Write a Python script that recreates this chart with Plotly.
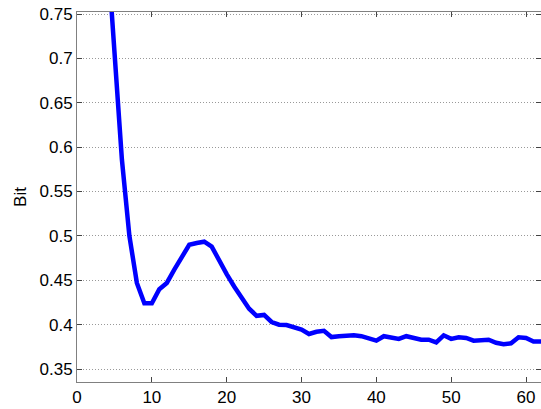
import plotly.graph_objects as go

x_vals = list(range(4, 63))
bit_vals = [0.83, 0.70, 0.586, 0.50, 0.447, 0.424, 0.424, 0.44, 0.447, 0.462,
            0.476, 0.490, 0.492, 0.4935, 0.488, 0.472, 0.457, 0.443, 0.43, 0.418,
            0.41, 0.411, 0.403, 0.400, 0.3996, 0.397, 0.3945, 0.3895, 0.392, 0.393,
            0.386, 0.387, 0.388, 0.388, 0.387, 0.384, 0.382, 0.387, 0.386, 0.384,
            0.387, 0.385, 0.383, 0.383, 0.380, 0.388, 0.384, 0.3857, 0.385, 0.382,
            0.382, 0.383, 0.3796, 0.378, 0.379, 0.3857, 0.385, 0.381, 0.381]

y_ticks = [0.35, 0.4, 0.45, 0.5, 0.55, 0.6, 0.65, 0.7, 0.75]
y_tick_text = ["0.35", "0.4", "0.45", "0.5", "0.55", "0.6", "0.65", "0.7", "0.75"]
x_ticks = [0, 10, 20, 30, 40, 50, 60]

fig = go.Figure()
fig.add_trace(go.Scatter(x=x_vals, y=bit_vals, mode="lines",
                         line=dict(color="#0000ff", width=4.5), showlegend=False))

font = dict(family="Liberation Sans, Arial, sans-serif", size=17, color="#000000")
fig.update_layout(
    width=541, height=409,
    margin=dict(l=77, r=0, t=12, b=27),
    paper_bgcolor="white", plot_bgcolor="white",
    font=font,
    xaxis=dict(range=[0, 62], tickvals=x_ticks, showgrid=False, zeroline=False,
               showline=True, linecolor="#808080", linewidth=1, mirror="ticks",
               ticks="inside", ticklen=5, tickcolor="#444444", tickfont=font),
    yaxis=dict(range=[0.3354, 0.7523], tickvals=y_ticks, ticktext=y_tick_text,
               showgrid=True, gridcolor="#999999", griddash="1px,2px", gridwidth=1,
               zeroline=False, showline=True, linecolor="#808080", linewidth=1,
               mirror="ticks", ticks="inside", ticklen=5, tickcolor="#444444",
               tickfont=font,
               title=dict(text="Bit", font=font, standoff=8)),
)
fig.write_html("out.html")
